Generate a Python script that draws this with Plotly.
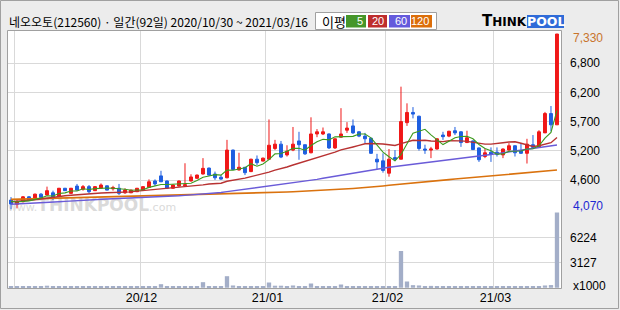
import plotly.graph_objects as go
import pandas as pd

W, H = 620, 310

# ---------------- data ----------------
holidays = ['2020-12-25', '2020-12-31', '2021-01-01', '2021-02-11', '2021-02-12', '2021-03-01']
dates = pd.bdate_range('2020-10-30', '2021-03-16', freq='C', holidays=holidays)

open_ = [4240, 4160, 4210, 4300, 4255, 4350, 4335, 4375, 4315, 4460,
         4365, 4500, 4440, 4490, 4415, 4460, 4505, 4450, 4460, 4375,
         4375, 4395, 4425, 4475, 4595, 4690, 4595, 4460, 4500, 4505,
         4595, 4645, 4725, 4835, 4725, 4665, 4655, 5170, 4800, 4850,
         4770, 5000, 4965, 5000, 5200, 5280, 5080, 5170, 5340, 5270,
         5120, 5470, 5470, 5470, 5210, 5410, 5540, 5620, 5510, 5430,
         5390, 5000, 4970, 4740, 5030, 5000, 5680, 5870, 5800, 5190,
         5170, 5190, 5450, 5430, 5530, 5510, 5310, 5340, 5210, 5050,
         5130, 5130, 5080, 5170, 5250, 5160, 5110, 5270, 5220, 5490,
         5850, 5640]
high = [4295, 4255, 4315, 4315, 4360, 4370, 4490, 4415, 4465, 4465,
        4465, 4540, 4520, 4520, 4500, 4550, 4510, 4505, 4540, 4460,
        4435, 4465, 4500, 4625, 4625, 4785, 4605, 4530, 4605, 4925,
        4720, 4715, 5020, 4845, 4770, 4705, 5360, 5180, 5120, 4855,
        5010, 5070, 5030, 5740, 5360, 5340, 5260, 5600, 5510, 5270,
        5780, 5560, 5590, 5480, 5390, 5950, 5690, 5740, 5520, 5490,
        5400, 5100, 5110, 5190, 5170, 6350, 6040, 5970, 5810, 5270,
        5230, 5390, 5510, 5530, 5600, 5520, 5530, 5350, 5220, 5200,
        5220, 5220, 5200, 5300, 5260, 5300, 5380, 5450, 5540, 5880,
        5990, 7330]
low = [4070, 4085, 4195, 4230, 4240, 4280, 4325, 4240, 4305, 4410,
       4360, 4420, 4415, 4365, 4410, 4455, 4420, 4415, 4335, 4355,
       4370, 4390, 4420, 4475, 4500, 4575, 4445, 4450, 4490, 4490,
       4585, 4640, 4715, 4690, 4615, 4615, 4645, 4800, 4790, 4705,
       4760, 4890, 4960, 4995, 5170, 5020, 5050, 5150, 4990, 5080,
       5110, 5410, 5450, 5190, 5190, 5400, 5490, 5470, 5410, 5300,
       5100, 4810, 4750, 4675, 4965, 5000, 5620, 5760, 5160, 5100,
       5020, 5180, 5360, 5410, 5450, 5230, 5300, 5170, 4950, 5020,
       4950, 5050, 5020, 5160, 5050, 5100, 4920, 5200, 5220, 5490,
       5520, 5640]
close = [4165, 4210, 4300, 4240, 4350, 4290, 4415, 4290, 4460, 4415,
         4460, 4425, 4490, 4395, 4490, 4520, 4425, 4470, 4365, 4425,
         4425, 4460, 4490, 4580, 4540, 4580, 4460, 4520, 4595, 4525,
         4670, 4705, 4830, 4705, 4655, 4630, 5170, 4810, 4850, 4750,
         5000, 4935, 5020, 5260, 5280, 5040, 5150, 5280, 5270, 5100,
         5470, 5510, 5510, 5210, 5380, 5470, 5580, 5490, 5430, 5380,
         5110, 4950, 4790, 5000, 5000, 5700, 5870, 5840, 5200, 5170,
         5190, 5380, 5420, 5520, 5490, 5310, 5400, 5180, 4990, 5120,
         5090, 5090, 5190, 5250, 5120, 5110, 5280, 5220, 5510, 5850,
         5640, 7330]
# volume in thousands of shares
volume = [150, 120, 130, 110, 120, 110, 250, 130, 150, 110,
          110, 120, 110, 110, 110, 120, 110, 110, 120, 110,
          110, 110, 120, 150, 150, 440, 150, 120, 130, 180,
          140, 140, 690, 180, 130, 130, 1430, 280, 200, 140,
          150, 130, 120, 650, 250, 250, 160, 280, 200, 150,
          525, 180, 180, 150, 150, 400, 150, 220, 150, 130,
          200, 200, 200, 180, 150, 4550, 775, 320, 280, 180,
          230, 150, 140, 130, 120, 140, 130, 120, 120, 120,
          120, 110, 110, 120, 110, 110, 130, 140, 220, 280,
          330, 9321]
# moving averages whose windows reach back before the first shown day
ma5_head = [4215, 4205, 4215, 4225]
ma20_head = [4210, 4217, 4226, 4236, 4245, 4260, 4278, 4297, 4310, 4321,
             4330, 4340, 4349, 4357, 4364, 4371, 4375, 4379, 4381]
ma60 = [4163, 4167, 4172, 4176, 4181, 4185, 4193, 4200, 4208, 4215,
        4223, 4229, 4235, 4241, 4248, 4254, 4259, 4264, 4268, 4273,
        4278, 4282, 4286, 4289, 4293, 4297, 4304, 4312, 4319, 4327,
        4334, 4343, 4353, 4362, 4372, 4381, 4396, 4411, 4425, 4440,
        4455, 4468, 4481, 4494, 4507, 4520, 4537, 4554, 4570, 4587,
        4604, 4624, 4645, 4665, 4686, 4706, 4725, 4743, 4762, 4780,
        4799, 4816, 4833, 4850, 4866, 4883, 4896, 4909, 4922, 4935,
        4948, 4961, 4974, 4987, 5000, 5013, 5028, 5043, 5058, 5073,
        5088, 5105, 5122, 5138, 5155, 5172, 5187, 5202, 5216, 5231,
        5246, 5265]
ma120 = [4252, 4255, 4257, 4260, 4263, 4265, 4268, 4270, 4273, 4275,
         4278, 4280, 4283, 4285, 4287, 4290, 4292, 4294, 4297, 4299,
         4301, 4304, 4307, 4310, 4312, 4315, 4318, 4321, 4324, 4326,
         4329, 4332, 4335, 4339, 4342, 4345, 4349, 4352, 4355, 4359,
         4362, 4367, 4371, 4376, 4381, 4386, 4390, 4395, 4400, 4404,
         4409, 4415, 4421, 4428, 4434, 4440, 4448, 4456, 4464, 4471,
         4479, 4491, 4503, 4515, 4527, 4539, 4549, 4560, 4570, 4581,
         4591, 4601, 4611, 4621, 4631, 4641, 4650, 4660, 4669, 4679,
         4688, 4697, 4706, 4716, 4725, 4734, 4745, 4756, 4768, 4779,
         4790, 4799]

price_grid = [4613.3, 5156.7, 5700.0, 6243.3, 6786.7]
price_grid_text = ['4,600', '5,200', '5,700', '6,200', '6,800']
price_max_text, price_min_text = '7,330', '4,070'
vol_grid = [3127, 6224]
vol_grid_text = ['3127', '6224']
ma_labels = ['5', '20', '60', '120']
title_text = '네오오토(212560) · 일간(92일) 2020/10/30 ~ 2021/03/16'

# ---------------- styling ----------------
UP, DN = '#F01818', '#1F5FE0'
VOLC = '#A3AEC8'
GRID = '#D9D9D9'
FRAME = '#A0A0A0'
BG = '#ECECEC'
MA_COLORS = ['#3C9A1E', '#B83232', '#6A5BD8', '#DA720E']
LEG_COLORS = ['#46962A', '#BE2D2D', '#645ADC', '#DC6E0A']
FONT = 'Liberation Sans'
KFONT = 'Noto Sans CJK KR'

cs = pd.Series(close, dtype=float)
ma5 = cs.rolling(5).mean().tolist()
ma5[:len(ma5_head)] = ma5_head
ma20 = cs.rolling(20).mean().tolist()
ma20[:len(ma20_head)] = ma20_head

n = len(close)
x = list(range(n))
month_first = [i for i in range(1, n) if dates[i].month != dates[i - 1].month]
labelled = month_first[1:]

# pixel geometry
L, R = 8, 561
PT, PB = 31, 211
VT, VB = 211, 288


def fx(p):
    return p / W


def fy(p):
    return 1 - p / H


# price axis: 4070 at y=209.2, 7330 at y=34
ppp = (7330 - 4070) / (209.2 - 34.0)
p_lo = 4070 - (PB - 209.2) * ppp
p_hi = 4070 + (209.2 - PT) * ppp
vpp = (vol_grid[1] - vol_grid[0]) / 25.0
v_lo = 30 - (VB - 287.5) * vpp
v_hi = 30 + (287.5 - VT) * vpp

fig = go.Figure()
fig.add_trace(go.Candlestick(
    x=x, open=open_, high=high, low=low, close=close,
    increasing=dict(line=dict(color=UP, width=1), fillcolor=UP),
    decreasing=dict(line=dict(color=DN, width=1), fillcolor=DN),
    whiskerwidth=0, xaxis='x', yaxis='y', showlegend=False, hoverinfo='skip'))
for ma, col, w in [(ma120, MA_COLORS[3], 1.6), (ma60, MA_COLORS[2], 1.4),
                   (ma20, MA_COLORS[1], 1.4), (ma5, MA_COLORS[0], 1.1)]:
    fig.add_trace(go.Scatter(x=x, y=ma, mode='lines', line=dict(color=col, width=w),
                             xaxis='x', yaxis='y', showlegend=False, hoverinfo='skip'))
fig.add_trace(go.Bar(x=x, y=volume, marker=dict(color=VOLC, line=dict(width=0)), width=0.72,
                     xaxis='x', yaxis='y2', showlegend=False, hoverinfo='skip'))

shapes = []
annotations = []

# frame around panels
shapes.append(dict(type='rect', xref='paper', yref='paper', x0=fx(L - 0.5), x1=fx(R + 0.5),
                   y0=fy(VB + 0.5), y1=fy(PT - 0.5), line=dict(color=FRAME, width=1), layer='above'))
# outer border
shapes.append(dict(type='rect', xref='paper', yref='paper', x0=fx(0.5), x1=fx(618.5),
                   y0=fy(308.5), y1=fy(0.5), line=dict(color=FRAME, width=1), layer='below'))
# watermark
shapes.append(dict(type='rect', xref='paper', yref='paper', x0=fx(22), x1=fx(162),
                   y0=fy(212), y1=fy(196), line=dict(width=0), fillcolor='rgba(0,0,0,0)', layer='below',
                   label=dict(text="<span style='font-size:11px'>www.</span><b>THINKPOOL</b><span style='font-size:11px'>.com</span>",
                              font=dict(family='DejaVu Sans', size=17, color='#DADADA'),
                              textposition='middle center')))

# title
annotations.append(dict(xref='paper', yref='paper', x=fx(7), y=fy(21.5), xanchor='left', yanchor='middle',
                        text=title_text, showarrow=False, font=dict(family=KFONT, size=12, color='black')))

# moving-average legend box
shapes.append(dict(type='rect', xref='paper', yref='paper', x0=fx(315.5), x1=fx(436.5),
                   y0=fy(29.5), y1=fy(12.5), line=dict(color=FRAME, width=1), fillcolor='white'))
annotations.append(dict(xref='paper', yref='paper', x=fx(320), y=fy(21), xanchor='left', yanchor='middle',
                        text='이평', showarrow=False, font=dict(family=KFONT, size=13, color='black')))
boxes = [(346, 366), (368, 387), (389, 410), (411, 432)]
for (a, b), lab, col in zip(boxes, ma_labels, LEG_COLORS):
    shapes.append(dict(type='rect', xref='paper', yref='paper', x0=fx(a), x1=fx(b),
                       y0=fy(27.5), y1=fy(15), line=dict(width=0), fillcolor=col))
    annotations.append(dict(xref='paper', yref='paper', x=fx(b - 1), y=fy(21.3), xanchor='right',
                            yanchor='middle', text=lab, showarrow=False,
                            font=dict(family=FONT, size=11, color='white')))

# THINKPOOL logo
annotations.append(dict(xref='paper', yref='paper', x=fx(480), y=fy(21.5), xanchor='left', yanchor='middle',
                        text="<b><span style='font-size:15px'>T</span>HINK</b>", showarrow=False,
                        font=dict(family='DejaVu Sans', size=12, color='black')))
shapes.append(dict(type='rect', xref='paper', yref='paper', x0=fx(527), x1=fx(564),
                   y0=fy(28), y1=fy(15), line=dict(width=0), fillcolor='#2F6BD8'))
annotations.append(dict(xref='paper', yref='paper', x=fx(545.5), y=fy(21.5), xanchor='center', yanchor='middle',
                        text='<b>POOL</b>', showarrow=False,
                        font=dict(family='DejaVu Sans', size=12.5, color='white')))

# extreme price labels
annotations.append(dict(xref='paper', yref='paper', x=fx(571), y=fy(37.5), xanchor='left', yanchor='middle',
                        text=price_max_text, showarrow=False, font=dict(family=FONT, size=12, color='#C8742C')))
annotations.append(dict(xref='paper', yref='paper', x=fx(571), y=fy(206), xanchor='left', yanchor='middle',
                        text=price_min_text, showarrow=False, font=dict(family=FONT, size=12, color='#1E28D2')))
annotations.append(dict(xref='paper', yref='paper', x=fx(571), y=fy(286), xanchor='left', yanchor='middle',
                        text='x1000', showarrow=False, font=dict(family=FONT, size=12, color='black')))

fig.update_layout(
    width=W, height=H, margin=dict(l=0, r=0, t=0, b=0, autoexpand=False),
    paper_bgcolor=BG, plot_bgcolor='white', showlegend=False,
    shapes=shapes, annotations=annotations,
    xaxis=dict(domain=[fx(L), fx(R)], range=[-0.5, 91.67], anchor='y2', showgrid=False,
               tickmode='array', tickvals=[i - 0.25 for i in labelled],
               ticktext=[dates[i].strftime('%y/%m') for i in labelled],
               ticks='', tickfont=dict(family=FONT, size=12.5, color='black'),
               minor=dict(tickmode='array', tickvals=[i - 0.5 for i in month_first],
                          showgrid=True, gridcolor=GRID, gridwidth=1, ticks=''),
               zeroline=False, showline=False, rangeslider=dict(visible=False), fixedrange=True),
    yaxis=dict(domain=[fy(PB), fy(PT)], range=[p_lo, p_hi], side='right', anchor='x',
               tickmode='array', tickvals=price_grid, ticktext=price_grid_text, ticks='',
               ticklabelstandoff=8, tickfont=dict(family=FONT, size=12, color='black'),
               showgrid=True, gridcolor=GRID, gridwidth=1, zeroline=False, showline=False, fixedrange=True),
    yaxis2=dict(domain=[fy(VB), fy(VT)], range=[v_lo, v_hi], side='right', anchor='x',
                tickmode='array', tickvals=vol_grid, ticktext=vol_grid_text, ticks='',
                ticklabelstandoff=8, tickfont=dict(family=FONT, size=12, color='black'),
                showgrid=True, gridcolor=GRID, gridwidth=1, zeroline=False, showline=False, fixedrange=True),
)

fig.write_html('out.html')
